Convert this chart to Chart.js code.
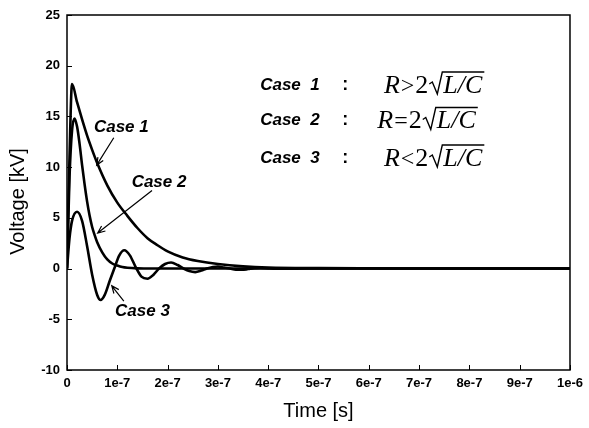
<!DOCTYPE html>
<html>
<head>
<meta charset="utf-8">
<script src="https://cdn.jsdelivr.net/npm/chart.js@4"></script>
<style>
  body { margin: 0; background: #fff; }
  canvas { display: block; }
</style>
</head>
<body>
<canvas id="myChart" width="589" height="428"></canvas>
<script>
// values (time in seconds, voltage in kV)
const timeCase1 = [0, 0.05e-7, 0.1e-7, 0.2e-7, 0.3e-7, 0.4e-7, 0.5e-7, 0.6e-7, 0.8e-7, 1.0e-7, 1.2e-7, 1.4e-7, 1.6e-7, 1.8e-7, 2.0e-7, 2.3e-7, 2.6e-7, 3.0e-7, 3.5e-7, 4.0e-7, 5.0e-7, 7.0e-7, 10e-7];
const voltCase1 = [0, 11, 18.2, 16.4, 14.7, 13.1, 11.7, 10.4, 8.2, 6.5, 5.2, 4.0, 3.0, 2.3, 1.7, 1.1, 0.75, 0.45, 0.22, 0.1, 0.04, 0.01, 0];

const timeCase2 = [0, 0.05e-7, 0.1e-7, 0.15e-7, 0.2e-7, 0.25e-7, 0.3e-7, 0.35e-7, 0.4e-7, 0.45e-7, 0.5e-7, 0.55e-7, 0.6e-7, 0.7e-7, 0.8e-7, 0.9e-7, 1.0e-7, 1.1e-7, 1.2e-7, 1.4e-7, 1.7e-7, 2.0e-7, 10e-7];
const voltCase2 = [0, 9, 13.6, 14.8, 14.0, 12.3, 10.2, 8.3, 6.6, 5.2, 4.1, 3.3, 2.6, 1.6, 0.9, 0.5, 0.3, 0.15, 0.08, 0.02, 0, 0, 0];

const timeCase3 = [0, 0.05e-7, 0.1e-7, 0.2e-7, 0.3e-7, 0.4e-7, 0.5e-7, 0.6e-7, 0.67e-7, 0.75e-7, 0.85e-7, 0.94e-7, 1.04e-7, 1.14e-7, 1.25e-7, 1.37e-7, 1.48e-7, 1.6e-7, 1.72e-7, 1.83e-7, 1.95e-7, 2.07e-7, 2.2e-7, 2.32e-7, 2.43e-7, 2.55e-7, 2.67e-7, 2.78e-7, 2.9e-7, 3.0e-7, 3.12e-7, 3.24e-7, 3.36e-7, 3.48e-7, 3.6e-7, 3.72e-7, 3.84e-7, 4.0e-7, 4.3e-7, 4.8e-7, 6.0e-7, 10e-7];
const voltCase3 = [0, 3.0, 4.7, 5.6, 4.7, 2.2, -0.6, -2.6, -3.1, -2.6, -1.2, 0, 1.3, 1.8, 1.3, 0.1, -0.8, -1.0, -0.6, 0, 0.45, 0.6, 0.35, 0, -0.25, -0.35, -0.2, 0, 0.15, 0.2, 0.1, 0, -0.1, -0.12, -0.05, 0.03, 0.06, 0.02, -0.02, 0.01, 0, 0];

const xTickLabels = ['0', '1e-7', '2e-7', '3e-7', '4e-7', '5e-7', '6e-7', '7e-7', '8e-7', '9e-7', '1e-6'];
const yTickLabels = ['-10', '-5', '0', '5', '10', '15', '20', '25'];

const caseNames = ['Case 1', 'Case 2', 'Case 3'];
const caseRelations = ['>', '=', '<'];

const sans = '"Liberation Sans", Arial, sans-serif';
const serif = '"Liberation Serif", "Times New Roman", serif';

function toPoints(ts, vs) {
  return ts.map((t, i) => ({ x: t, y: vs[i] }));
}

function lineSet(label, ts, vs) {
  return {
    label: label,
    data: toPoints(ts, vs),
    borderColor: '#000',
    borderWidth: 2.6,
    pointRadius: 0,
    fill: false,
    cubicInterpolationMode: 'monotone'
  };
}

function arrow(ctx, x1, y1, x2, y2) {
  const a = Math.atan2(y2 - y1, x2 - x1);
  const h = 8;
  ctx.beginPath();
  ctx.moveTo(x1, y1);
  ctx.lineTo(x2, y2);
  ctx.moveTo(x2 - h * Math.cos(a - 0.4), y2 - h * Math.sin(a - 0.4));
  ctx.lineTo(x2, y2);
  ctx.lineTo(x2 - h * Math.cos(a + 0.4), y2 - h * Math.sin(a + 0.4));
  ctx.stroke();
}

function formula(ctx, x, y, rel) {
  ctx.textAlign = 'left';
  ctx.textBaseline = 'alphabetic';
  ctx.font = 'italic 26px ' + serif;
  ctx.fillText('R', x, y);
  x += ctx.measureText('R').width + 1;
  ctx.font = '24px ' + serif;
  ctx.fillText(rel, x, y);
  x += ctx.measureText(rel).width + 1;
  ctx.font = '26px ' + serif;
  ctx.fillText('2', x, y);
  x += ctx.measureText('2').width + 1;
  // radical sign
  ctx.font = 'italic 26px ' + serif;
  const w = ctx.measureText('L/C').width;
  ctx.lineWidth = 1.4;
  ctx.beginPath();
  ctx.moveTo(x, y - 9);
  ctx.lineTo(x + 3, y - 11);
  ctx.lineTo(x + 8, y + 1);
  ctx.lineTo(x + 13, y - 21);
  ctx.lineTo(x + 16 + w, y - 21);
  ctx.stroke();
  ctx.fillText('L/C', x + 14, y);
}

const decorations = {
  id: 'decorations',
  afterDraw(chart) {
    const { ctx, chartArea: a, scales } = chart;
    const X = v => scales.x.getPixelForValue(v);
    const Y = v => scales.y.getPixelForValue(v);
    ctx.save();
    ctx.strokeStyle = '#000';
    ctx.fillStyle = '#000';

    // frame
    ctx.lineWidth = 1.5;
    ctx.strokeRect(a.left, a.top, a.right - a.left, a.bottom - a.top);

    // inward ticks
    ctx.lineWidth = 1;
    ctx.beginPath();
    scales.y.ticks.forEach(t => {
      const p = Math.round(Y(t.value)) + 0.5;
      ctx.moveTo(a.left, p); ctx.lineTo(a.left + 5, p);
    });
    scales.x.ticks.forEach(t => {
      const p = Math.round(X(t.value)) + 0.5;
      ctx.moveTo(p, a.bottom); ctx.lineTo(p, a.bottom - 5);
    });
    ctx.stroke();

    // y axis title
    ctx.save();
    ctx.translate(18, (a.top + a.bottom) / 2 + 9);
    ctx.rotate(-Math.PI / 2);
    ctx.font = '20px ' + sans;
    ctx.textAlign = 'center';
    ctx.textBaseline = 'middle';
    ctx.fillText('Voltage [kV]', 0, 0);
    ctx.restore();

    // curve labels with arrows
    ctx.font = 'italic bold 17px ' + sans;
    ctx.textAlign = 'center';
    ctx.textBaseline = 'middle';
    ctx.fillText(caseNames[0], X(1.08e-7), Y(13.9));
    ctx.fillText(caseNames[1], X(1.83e-7), Y(8.5));
    ctx.fillText(caseNames[2], X(1.5e-7), Y(-4.2));
    ctx.lineWidth = 1.2;
    arrow(ctx, X(0.93e-7), Y(12.9), X(0.59e-7), Y(10.2));
    arrow(ctx, X(1.69e-7), Y(7.7), X(0.61e-7), Y(3.5));
    arrow(ctx, X(1.13e-7), Y(-3.2), X(0.89e-7), Y(-1.7));

    // condition block
    const rows = [18.1, 14.6, 10.9];
    rows.forEach((v, i) => {
      const cy = Y(v);
      ctx.font = 'italic bold 17px ' + sans;
      ctx.textAlign = 'left';
      ctx.textBaseline = 'middle';
      ctx.fillText(caseNames[i].replace(' ', '  '), X(3.84e-7), cy);
      ctx.font = 'bold 18px ' + sans;
      ctx.fillText(':', X(5.47e-7), cy);
      formula(ctx, X(i === 1 ? 6.17e-7 : 6.3e-7), cy + 8, caseRelations[i]);
    });
    ctx.restore();
  }
};

new Chart(document.getElementById('myChart'), {
  type: 'line',
  data: {
    datasets: [
      lineSet(caseNames[0], timeCase1, voltCase1),
      lineSet(caseNames[1], timeCase2, voltCase2),
      lineSet(caseNames[2], timeCase3, voltCase3)
    ]
  },
  options: {
    responsive: false,
    animation: false,
    devicePixelRatio: 1,
    layout: { padding: { top: 15, right: 14, left: 0, bottom: 0 } },
    plugins: { legend: { display: false }, tooltip: { enabled: false } },
    scales: {
      x: {
        type: 'linear',
        min: 0,
        max: 1e-6,
        afterBuildTicks: s => { s.ticks = xTickLabels.map((_, i) => ({ value: i * 1e-7 })); },
        ticks: {
          color: '#000',
          padding: 6,
          maxRotation: 0,
          autoSkip: false,
          font: { family: sans, size: 13, weight: 'bold' },
          callback: (v, i) => xTickLabels[i]
        },
        grid: { display: false, drawTicks: false },
        border: { display: false },
        title: {
          display: true,
          text: 'Time [s]',
          color: '#000',
          font: { family: sans, size: 20 },
          padding: { top: 0, bottom: 5 }
        },
        afterFit: s => { s.height = 58; }
      },
      y: {
        min: -10,
        max: 25,
        afterBuildTicks: s => { s.ticks = yTickLabels.map(l => ({ value: Number(l) })); },
        ticks: {
          color: '#000',
          padding: 7,
          font: { family: sans, size: 13, weight: 'bold' },
          callback: (v, i) => yTickLabels[i]
        },
        grid: { display: false, drawTicks: false },
        border: { display: false },
        afterFit: s => { s.width = 67; }
      }
    }
  },
  plugins: [decorations]
});
</script>
</body>
</html>
